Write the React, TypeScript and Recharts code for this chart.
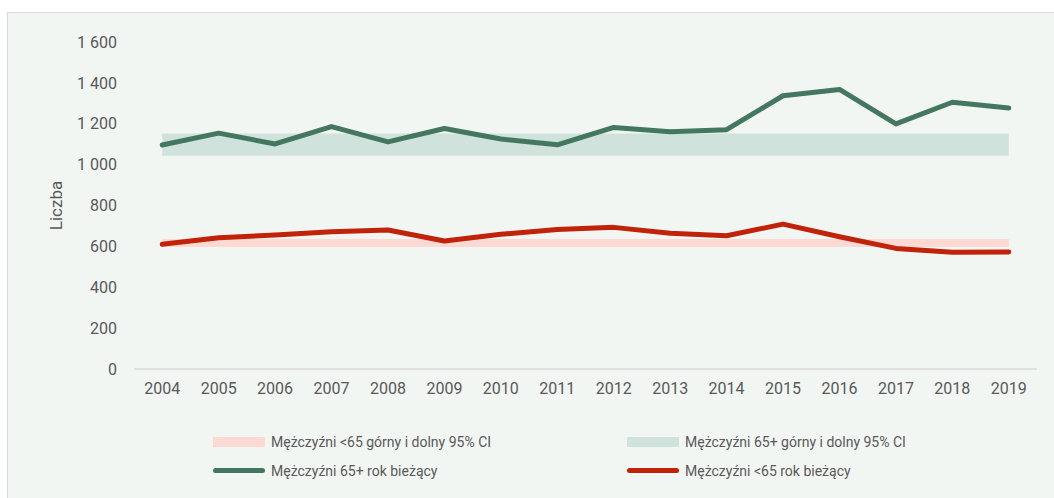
import {
  ComposedChart,
  Line,
  Area,
  XAxis,
  YAxis,
} from "recharts";

const years = [
  2004, 2005, 2006, 2007, 2008, 2009, 2010, 2011, 2012, 2013, 2014, 2015,
  2016, 2017, 2018, 2019,
];
const men65Current = [
  1096, 1154, 1101, 1186, 1111, 1177, 1125, 1097, 1182, 1161, 1171, 1337,
  1368, 1199, 1305, 1277,
];
const menUnder65Current = [
  610, 642, 656, 672, 680, 626, 659, 683, 693, 664, 652, 709, 647, 590, 571,
  572,
];
// 95% CI bands (lower, upper) – constant over the period
const men65Ci = [1043, 1152];
const menUnder65Ci = [597, 636];
const yTicks = [0, 200, 400, 600, 800, 1000, 1200, 1400, 1600];

const data = years.map((year, i) => ({
  year,
  m65: men65Current[i],
  mU65: menUnder65Current[i],
  ci65: men65Ci,
  ciU65: menUnder65Ci,
}));

const GREEN = "#44775f";
const RED = "#c0230a";
const GREEN_BAND = "#cfe2dc";
const PINK_BAND = "#fcd9d2";
const TEXT = "#595959";
const FONT = "Roboto, 'Open Sans', sans-serif";

const fmt = (v: number) =>
  v >= 1000 ? `${Math.floor(v / 1000)} ${String(v % 1000).padStart(3, "0")}` : String(v);

function LegendBox() {
  const item = (kind: "rect" | "line", color: string, label: string) => (
    <div style={{ display: "flex", alignItems: "center", width: 414, height: 17 }}>
      <div
        style={{
          width: 52,
          height: kind === "rect" ? 10 : 5,
          background: color,
          borderRadius: kind === "rect" ? 0 : 3,
          marginRight: 6,
        }}
      />
      <span style={{ fontSize: 14, color: TEXT, fontFamily: FONT }}>{label}</span>
    </div>
  );
  return (
    <div
      style={{
        position: "absolute",
        left: 213,
        top: 433,
        display: "flex",
        flexWrap: "wrap",
        width: 828,
        rowGap: 12,
      }}
    >
      {item("rect", PINK_BAND, "Mężczyźni <65 górny i dolny 95% CI")}
      {item("rect", GREEN_BAND, "Mężczyźni 65+ górny i dolny 95% CI")}
      {item("line", GREEN, "Mężczyźni 65+ rok bieżący")}
      {item("line", RED, "Mężczyźni <65 rok bieżący")}
    </div>
  );
}

export default function App() {
  return (
    <div style={{ position: "absolute", left: 0, top: 0, width: 1054, height: 498, background: "#fff", overflow: "hidden" }}>
      <div
        style={{
          position: "absolute",
          left: 7,
          top: 12,
          width: 1060,
          height: 500,
          background: "#f2f6f3",
          border: "1px solid #d9d9d9",
        }}
      />
      <div style={{ position: "absolute", left: 0, top: 0 }}>
        <ComposedChart
          width={1054}
          height={498}
          data={data}
          margin={{ top: 42, right: 17, bottom: 99, left: 0 }}
        >
          <XAxis
            dataKey="year"
            type="number"
            domain={[2003.5, 2019.5]}
            ticks={years}
            tickSize={0}
            tickMargin={14}
            axisLine={{ stroke: "#d9d9d9", strokeWidth: 1.5 }}
            tick={{ fill: TEXT, fontSize: 16, fontFamily: FONT }}
            interval={0}
          />
          <YAxis
            width={134}
            domain={[0, 1600]}
            ticks={yTicks}
            tickFormatter={fmt}
            tickSize={0}
            tickMargin={17}
            axisLine={false}
            tickLine={false}
            tick={{ fill: TEXT, fontSize: 16, fontFamily: FONT }}
            label={{
              value: "Liczba",
              angle: -90,
              position: "insideLeft",
              offset: 56,
              style: { fill: TEXT, fontSize: 17, fontFamily: FONT, textAnchor: "middle" },
            }}
          />
          <Area
            dataKey="ciU65"
            fill={PINK_BAND}
            fillOpacity={1}
            stroke="none"
            isAnimationActive={false}
            activeDot={false}
          />
          <Area
            dataKey="ci65"
            fill={GREEN_BAND}
            fillOpacity={1}
            stroke="none"
            isAnimationActive={false}
            activeDot={false}
          />
          <Line
            dataKey="m65"
            stroke={GREEN}
            strokeWidth={5}
            strokeLinecap="round"
            strokeLinejoin="round"
            dot={false}
            isAnimationActive={false}
          />
          <Line
            dataKey="mU65"
            stroke={RED}
            strokeWidth={5}
            strokeLinecap="round"
            strokeLinejoin="round"
            dot={false}
            isAnimationActive={false}
          />
        </ComposedChart>
      </div>
      <LegendBox />
    </div>
  );
}
